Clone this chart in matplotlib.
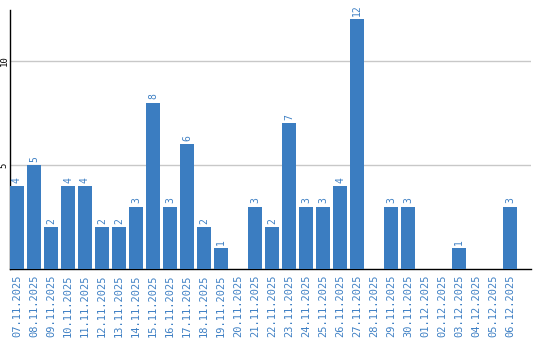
import matplotlib
matplotlib.use("Agg")
import matplotlib.pyplot as plt

dates = ["07.11.2025", "08.11.2025", "09.11.2025", "10.11.2025", "11.11.2025",
         "12.11.2025", "13.11.2025", "14.11.2025", "15.11.2025", "16.11.2025",
         "17.11.2025", "18.11.2025", "19.11.2025", "20.11.2025", "21.11.2025",
         "22.11.2025", "23.11.2025", "24.11.2025", "25.11.2025", "26.11.2025",
         "27.11.2025", "28.11.2025", "29.11.2025", "30.11.2025", "01.12.2025",
         "02.12.2025", "03.12.2025", "04.12.2025", "05.12.2025", "06.12.2025"]
counts = [4, 5, 2, 4, 4, 2, 2, 3, 8, 3, 6, 2, 1, 0, 3,
          2, 7, 3, 3, 4, 12, 0, 3, 3, 0, 0, 1, 0, 0, 3]
y_ticks = [5, 10]

bar_color = "#3b7dc1"
label_color = "#3f80c4"

fig = plt.figure(figsize=(5.4, 3.4), dpi=100)
ax = fig.add_axes([10/540, 71/340, 521/540, 259/340])

x = list(range(len(dates)))
w = 14/17
bars = ax.bar(x, counts, width=w, color=bar_color, zorder=3)
for xi, v in zip(x, counts):
    if v > 0:
        ax.text(xi, v + 0.15, str(v), rotation=90, ha="center", va="bottom",
                color=label_color, fontsize=7, family="DejaVu Sans Mono")

ax.set_xlim(-w/2, -w/2 + 521/17)
ax.set_ylim(0, 259/20.8)
ax.set_yticks(y_ticks)
ax.set_yticklabels([str(t) for t in y_ticks], rotation=90, va="center",
                   fontsize=6.5, family="DejaVu Sans Mono", color="black")
ax.set_xticks(x)
ax.set_xticklabels(dates, rotation=90, fontsize=7.5, family="DejaVu Sans Mono",
                   color=label_color)
ax.tick_params(axis="both", length=0, pad=2)
ax.tick_params(axis="y", pad=1)
ax.tick_params(axis="x", pad=4)
ax.grid(axis="y", color="#c8c8c8", linewidth=1, zorder=0)
for s in ["top", "right"]:
    ax.spines[s].set_visible(False)
ax.spines["left"].set_color("black")
ax.spines["bottom"].set_color("black")
ax.spines["left"].set_linewidth(1)
ax.spines["bottom"].set_linewidth(1)

fig.savefig("out.png", dpi=100)
